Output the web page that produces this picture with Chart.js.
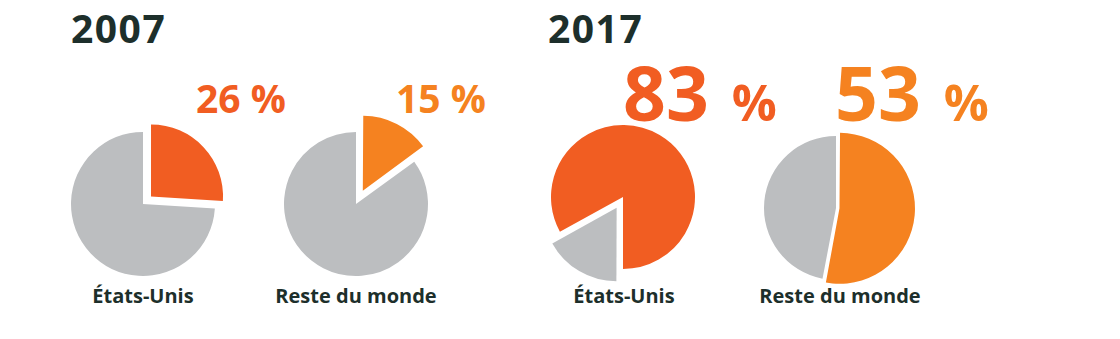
<!DOCTYPE html>
<html>
<head>
<meta charset="utf-8">
<script src="https://cdn.jsdelivr.net/npm/chart.js@4.4.1/dist/chart.umd.min.js"></script>
<style>
  html, body { margin: 0; padding: 0; background: #fff; }
  body { width: 1120px; height: 339px; position: relative; overflow: hidden; font-family: 'Open Sans', sans-serif; font-weight: 700; }
  .txt { position: absolute; white-space: nowrap; line-height: 1; }
  .year { font-size: 39px; color: #1d2f2b; letter-spacing: 1.5px; }
  .pct { font-size: 39px; }
  .big { font-size: 75px; }
  .big span { font-size: 50px; margin-left: 23px; }
  .lbl { font-size: 20px; color: #1d2f2b; width: 300px; text-align: center; }
  canvas { position: absolute; }
</style>
</head>
<body>
<div class="txt year" id="y0" style="left:71px;top:8px"></div>
<div class="txt year" id="y1" style="left:548px;top:8px"></div>

<div class="txt pct" id="p0" style="left:196px;top:78px;color:#f15d22"></div>
<div class="txt pct" id="p1" style="left:396px;top:78px;color:#f58220"></div>
<div class="txt big" id="p2" style="left:623px;top:55px;color:#f15d22"></div>
<div class="txt big" id="p3" style="left:835px;top:55px;color:#f58220"></div>

<div class="txt lbl" id="l0" style="left:-7px;top:286px"></div>
<div class="txt lbl" id="l1" style="left:206px;top:286px"></div>
<div class="txt lbl" id="l2" style="left:474px;top:286px"></div>
<div class="txt lbl" id="l3" style="left:690px;top:286px"></div>

<canvas id="c0" width="180" height="180" style="left:53px;top:114px"></canvas>
<canvas id="c1" width="180" height="180" style="left:266px;top:114px"></canvas>
<canvas id="c2" width="180" height="180" style="left:533px;top:107px"></canvas>
<canvas id="c3" width="180" height="180" style="left:746px;top:118px"></canvas>

<script>
// data
const years = ['2007', '2017'];
const regions = ['États-Unis', 'Reste du monde'];
const share2007 = [26, 15];   // orange slice, %
const rest2007 = [74, 85];    // grey slice, %
const share2017 = [83, 53];
const rest2017 = [17, 47];

const darkOrange = '#f15d22';
const lightOrange = '#f58220';
const grey = '#bcbec0';

document.getElementById('y0').textContent = years[0];
document.getElementById('y1').textContent = years[1];
document.getElementById('p0').textContent = share2007[0] + ' %';
document.getElementById('p1').textContent = share2007[1] + ' %';
document.getElementById('p2').innerHTML = share2017[0] + '<span>%</span>';
document.getElementById('p3').innerHTML = share2017[1] + '<span>%</span>';
['l0', 'l1', 'l2', 'l3'].forEach((id, i) => {
  document.getElementById(id).textContent = regions[i % 2];
});

// note: chart.js moves an arc by about offset/4 (offset/2 for slices over half the pie)
function makePie(id, labels, values, colors, offsets, rotation) {
  return new Chart(document.getElementById(id), {
    type: 'pie',
    data: {
      labels: labels,
      datasets: [{
        data: values,
        backgroundColor: colors,
        borderWidth: 0,
        offset: offsets
      }]
    },
    options: {
      responsive: false,
      animation: false,
      radius: 72,
      rotation: rotation,
      layout: { padding: 0 },
      plugins: { legend: { display: false }, tooltip: { enabled: false } }
    }
  });
}

// 2007
makePie('c0', ['part', 'reste'], [share2007[0], rest2007[0]], [darkOrange, grey], [44, 0], 0);
makePie('c1', ['part', 'reste'], [share2007[1], rest2007[1]], [lightOrange, grey], [60, 0], 0);
// 2017 (grey slice first so it starts at 6 o'clock)
makePie('c2', ['reste', 'part'], [rest2017[0], share2017[0]], [grey, darkOrange], [50, 0], 180);
makePie('c3', ['part', 'reste'], [share2017[1], rest2017[1]], [lightOrange, grey], [14, 0], 0);
</script>
</body>
</html>
